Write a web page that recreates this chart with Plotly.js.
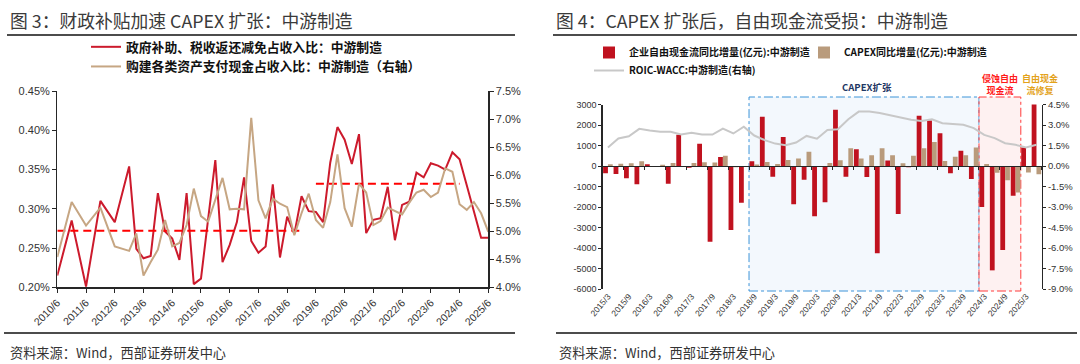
<!DOCTYPE html>
<html><head><meta charset="utf-8">
<script src="https://cdn.plot.ly/plotly-3.0.1.min.js"></script>
<style>html,body{margin:0;padding:0;background:#fff}#chart{width:1080px;height:364px}</style>
</head><body><div id="chart"></div>
<script>
// ---------- Figure 3 data ----------
const periods = ['2010/6','2010/12','2011/6','2011/12','2012/6','2012/12',
 '2013/3','2013/6','2013/9','2013/12','2014/3','2014/6','2014/9','2014/12',
 '2015/3','2015/6','2015/9','2015/12','2016/3','2016/6','2016/9','2016/12',
 '2017/3','2017/6','2017/9','2017/12','2018/3','2018/6','2018/9','2018/12',
 '2019/3','2019/6','2019/9','2019/12','2020/3','2020/6','2020/9','2020/12',
 '2021/3','2021/6','2021/9','2021/12','2022/3','2022/6','2022/9','2022/12',
 '2023/3','2023/6','2023/9','2023/12','2024/3','2024/6','2024/9','2024/12',
 '2025/3','2025/6'];
const subsidyRatio = [0.215,0.285,0.201,0.310,0.283,0.354,
 0.249,0.237,0.240,0.320,0.271,0.262,0.235,0.320,
 0.204,0.211,0.287,0.362,0.232,0.254,0.283,0.340,
 0.259,0.244,0.252,0.331,0.238,0.290,0.268,0.316,
 0.297,0.296,0.283,0.359,0.404,0.388,0.357,0.395,
 0.269,0.286,0.288,0.328,0.260,0.305,0.309,0.346,
 0.340,0.358,0.355,0.350,0.372,0.363,0.330,0.296,
 0.263,0.263];
const capexCashRatio = [4.54,5.52,5.10,5.42,4.73,4.65,
 4.96,4.21,4.45,4.67,5.20,4.73,4.79,5.11,
 5.76,5.27,5.17,5.55,5.95,5.39,5.40,5.39,
 7.02,5.55,5.23,5.58,5.49,5.43,4.93,5.32,
 5.67,5.20,5.06,5.52,6.37,5.41,5.08,5.85,
 5.69,5.11,5.18,5.42,5.36,5.30,5.51,5.69,
 5.74,5.61,5.69,6.12,6.06,5.48,5.38,5.52,
 5.32,4.99];
const avgStart = ['2010/6','2019/6'];
const avgEnd   = ['2018/12','2024/6'];
const avgValue = [0.272, 0.332];
const seriesNames3 = ['政府补助、税收返还减免占收入比：中游制造','购建各类资产支付现金占收入比：中游制造（右轴）'];

// ---------- Figure 4 data ----------
const quarters = ['2015/3','2015/6','2015/9','2015/12','2016/3','2016/6','2016/9','2016/12',
 '2017/3','2017/6','2017/9','2017/12','2018/3','2018/6','2018/9','2018/12',
 '2019/3','2019/6','2019/9','2019/12','2020/3','2020/6','2020/9','2020/12',
 '2021/3','2021/6','2021/9','2021/12','2022/3','2022/6','2022/9','2022/12',
 '2023/3','2023/6','2023/9','2023/12','2024/3','2024/6','2024/9','2024/12',
 '2025/3','2025/6'];
const fcfYoY = [-350,-390,-600,-890,90,null,-860,1520,
 -80,1080,-3700,440,-3120,-1790,230,2400,
 -530,1420,-1870,-670,-2450,-1770,2740,-520,
 820,-540,-4260,270,-2340,-60,2450,2220,
 1600,-350,740,-630,-2000,-5090,-4100,-1450,
 900,3020];
const capexYoY = [80,110,130,230,-20,60,150,0,
 150,180,165,500,-60,0,70,190,
 100,290,370,690,0,150,280,860,
 370,520,860,520,130,500,860,1170,
 250,450,520,900,100,-330,-700,-1290,
 -320,-400];
const roicWacc = [1.35,2.01,2.18,2.72,2.60,2.50,2.50,2.30,
 2.43,2.30,2.30,2.74,2.38,2.87,2.23,1.89,
 1.64,1.52,1.72,2.20,2.00,2.64,2.69,3.42,
 3.98,3.98,3.87,3.70,3.50,3.38,3.30,3.42,
 3.13,3.06,3.01,2.77,2.28,2.04,1.67,1.55,
 1.35,1.55];
const seriesNames4 = ['企业自由现金流同比增量(亿元):中游制造','CAPEX同比增量(亿元):中游制造','ROIC-WACC:中游制造(右轴)'];
const phaseStart = ['2018/9','2024/3'];   // first quarter of each shaded phase
const phaseEnd   = ['2024/3','2025/3'];   // first quarter after each phase

// ---------- helpers ----------
const W = 1080, H = 364;
const px = v => v / W, py = v => 1 - v / H;
const toX = p => { const [y, m] = p.split('/').map(Number); return y + (m - 6) / 12; };
const CJK = '"Noto Sans CJK SC", "Noto Sans", sans-serif';
const LAT = '"Liberation Sans", Arial, sans-serif';
const AX = '#262626';

const junePeriods = periods.filter(p => p.endsWith('/6'));
const evenQuarters = quarters.filter((q, i) => i % 2 === 0);
const qIndex = quarters.map((q, i) => i);

const traces = [
  {x: periods.map(toX), y: subsidyRatio, xaxis: 'x', yaxis: 'y', type: 'scatter', mode: 'lines',
   name: seriesNames3[0], legend: 'legend', line: {color: '#cc1a2c', width: 2}},
  {x: periods.map(toX), y: capexCashRatio, xaxis: 'x', yaxis: 'y2', type: 'scatter', mode: 'lines',
   name: seriesNames3[1], legend: 'legend', line: {color: '#c6a683', width: 2}}
];
avgValue.forEach((v, i) => traces.push({
  x: [toX(avgStart[i]), toX(avgEnd[i])], y: [v, v], xaxis: 'x', yaxis: 'y', type: 'scatter', mode: 'lines',
  showlegend: false, line: {color: '#ff0000', width: 2, dash: '8px,5px'}
}));
traces.push(
  {x: quarters, y: fcfYoY, xaxis: 'x2', yaxis: 'y3', type: 'bar', name: seriesNames4[0],
   legend: 'legend2', marker: {color: '#c0121f'}},
  {x: quarters, y: capexYoY, xaxis: 'x2', yaxis: 'y3', type: 'bar', name: seriesNames4[1],
   legend: 'legend2', marker: {color: '#b99b7c'}},
  {x: qIndex, y: roicWacc, xaxis: 'x3', yaxis: 'y4', type: 'scatter', mode: 'lines', name: seriesNames4[2],
   legend: 'legend3', line: {color: '#c8c8c8', width: 2}}
);

const y3dom = [py(289), py(104.5)];
const y3range = [-6000, 3000];
const zeroPos = y3dom[0] + (0 - y3range[0]) / (y3range[1] - y3range[0]) * (y3dom[1] - y3dom[0]);
const y3ticks = []; for (let v = y3range[0]; v <= y3range[1]; v += 1000) y3ticks.push(v);
const y4ticks = []; for (let v = -9; v <= 4.5 + 1e-9; v += 1.5) y4ticks.push(Math.round(v * 10) / 10);

const tickFontL = {family: LAT, size: 11, color: '#333'};
const tickFontR = {family: LAT, size: 9, color: '#333'};

const layout = {
  width: W, height: H, margin: {l: 0, r: 0, t: 0, b: 0},
  paper_bgcolor: '#fff', plot_bgcolor: 'rgba(0,0,0,0)',
  barmode: 'group', bargap: 0.08, bargroupgap: 0.0,
  font: {family: LAT, color: '#333'},
  xaxis: {domain: [px(57.3), px(488.3)], anchor: 'y', range: [toX(periods[0]), toX(periods[periods.length - 1])],
    tickmode: 'array', tickvals: junePeriods.map(toX), ticktext: junePeriods, tickangle: -45,
    showline: true, linecolor: AX, linewidth: 1.3, ticks: 'outside', ticklen: 4, tickcolor: AX,
    showgrid: false, zeroline: false, tickfont: {family: LAT, size: 10.5, color: '#333'}},
  yaxis: {domain: [py(287.3), py(91)], anchor: 'x', range: [0.2, 0.45], tick0: 0.2, dtick: 0.05,
    tickformat: '.2f', ticksuffix: '%', showline: true, linecolor: AX, linewidth: 1.3, ticks: 'outside',
    ticklen: 4, tickcolor: AX, showgrid: false, zeroline: false, tickfont: tickFontL},
  yaxis2: {overlaying: 'y', side: 'right', anchor: 'x', range: [4, 7.5], tick0: 4, dtick: 0.5,
    tickformat: '.1f', ticksuffix: '%', showline: true, linecolor: AX, linewidth: 1.3, ticks: 'outside',
    ticklen: 4, tickcolor: AX, showgrid: false, zeroline: false, tickfont: tickFontL},
  xaxis2: {domain: [px(602.7), px(1041.7)], anchor: 'y3', type: 'category', range: [-0.5, quarters.length - 0.5],
    tickmode: 'array', tickvals: evenQuarters, ticktext: evenQuarters, tickangle: -50, showline: false,
    ticks: '', showgrid: false, zeroline: false, tickfont: {family: LAT, size: 8.5, color: '#333'}},
  xaxis3: {overlaying: 'x2', anchor: 'free', position: zeroPos, range: [-0.5, quarters.length - 0.5],
    tick0: -0.5, dtick: 2, showticklabels: false, showline: true, linecolor: AX, linewidth: 1.3,
    ticks: 'outside', ticklen: 3, tickcolor: AX, showgrid: false, zeroline: false},
  yaxis3: {domain: y3dom, anchor: 'x2', range: y3range, tickmode: 'array', tickvals: y3ticks,
    ticktext: y3ticks.map(String), showline: true, linecolor: AX, linewidth: 1.3, ticks: 'outside',
    ticklen: 3, tickcolor: AX, showgrid: false, zeroline: false, tickfont: tickFontR},
  yaxis4: {overlaying: 'y3', side: 'right', anchor: 'x2', range: [-9, 4.5], tickmode: 'array',
    tickvals: y4ticks, ticktext: y4ticks.map(v => v.toFixed(1) + '%'), showline: true, linecolor: AX,
    linewidth: 1.3, ticks: 'outside', ticklen: 3, tickcolor: AX, showgrid: false, zeroline: false,
    tickfont: {family: LAT, size: 9.5, color: '#333'}},
  legend: {x: px(86), y: py(32), xanchor: 'left', yanchor: 'top', orientation: 'v',
    bgcolor: 'rgba(0,0,0,0)', font: {family: CJK, size: 12.8, color: '#111', weight: 'bold'}, tracegroupgap: 0},
  legend2: {x: px(589), y: py(38), xanchor: 'left', yanchor: 'top', orientation: 'h',
    entrywidth: 170, entrywidthmode: 'pixels',
    bgcolor: 'rgba(0,0,0,0)', font: {family: CJK, size: 10, color: '#111', weight: 'bold'}},
  legend3: {x: px(589), y: py(56), xanchor: 'left', yanchor: 'top', orientation: 'h',
    bgcolor: 'rgba(0,0,0,0)', font: {family: CJK, size: 10, color: '#111', weight: 'bold'}},
  shapes: [
    {type: 'line', xref: 'paper', yref: 'paper', x0: px(7), x1: px(515), y0: py(35), y1: py(35), line: {color: '#111', width: 1.5}},
    {type: 'line', xref: 'paper', yref: 'paper', x0: px(553), x1: px(1077), y0: py(35), y1: py(35), line: {color: '#111', width: 1.5}},
    {type: 'line', xref: 'paper', yref: 'paper', x0: px(4), x1: px(515), y0: py(333), y1: py(333), line: {color: '#111', width: 1.5}},
    {type: 'line', xref: 'paper', yref: 'paper', x0: px(556), x1: px(1077), y0: py(333), y1: py(333), line: {color: '#111', width: 1.5}},
    {type: 'rect', xref: 'x2', yref: 'paper', layer: 'below',
     x0: quarters.indexOf(phaseStart[0]) - 0.5, x1: quarters.indexOf(phaseEnd[0]) - 0.5, y0: py(291), y1: py(97),
     fillcolor: 'rgba(225,237,249,0.4)', line: {color: '#3d94d8', width: 1, dash: 'dashdot'}},
    {type: 'rect', xref: 'x2', yref: 'paper', layer: 'below',
     x0: quarters.indexOf(phaseStart[1]) - 0.5, x1: quarters.indexOf(phaseEnd[1]) - 0.5, y0: py(291), y1: py(97),
     fillcolor: 'rgba(253,225,225,0.45)', line: {color: '#ff3b3b', width: 1, dash: 'dashdot'}}
  ],
  annotations: [
    {xref: 'paper', yref: 'paper', x: px(8), y: py(20), xanchor: 'left', yanchor: 'middle', showarrow: false,
     text: '图 3：财政补贴加速 CAPEX 扩张：中游制造', font: {family: CJK, size: 17.8, color: '#3a3a3a'}},
    {xref: 'paper', yref: 'paper', x: px(554), y: py(20), xanchor: 'left', yanchor: 'middle', showarrow: false,
     text: '图 4：CAPEX 扩张后，自由现金流受损：中游制造', font: {family: CJK, size: 17.8, color: '#3a3a3a'}},
    {xref: 'paper', yref: 'paper', x: px(8), y: py(352), xanchor: 'left', yanchor: 'middle', showarrow: false,
     text: '资料来源：Wind，西部证券研发中心', font: {family: CJK, size: 13.2, color: '#333'}},
    {xref: 'paper', yref: 'paper', x: px(557), y: py(352), xanchor: 'left', yanchor: 'middle', showarrow: false,
     text: '资料来源：Wind，西部证券研发中心', font: {family: CJK, size: 13.2, color: '#333'}},
    {xref: 'paper', yref: 'paper', x: px(867), y: py(87), xanchor: 'center', yanchor: 'middle', showarrow: false,
     text: 'CAPEX扩张', font: {family: CJK, size: 9.5, color: '#1f3864', weight: 'bold'}},
    {xref: 'paper', yref: 'paper', x: px(1000), y: py(84), xanchor: 'center', yanchor: 'middle', showarrow: false,
     text: '侵蚀自由<br>现金流', align: 'center', font: {family: CJK, size: 9, color: '#ff1a1a', weight: 'bold'}},
    {xref: 'paper', yref: 'paper', x: px(1040), y: py(84), xanchor: 'center', yanchor: 'middle', showarrow: false,
     text: '自由现金<br>流修复', align: 'center', font: {family: CJK, size: 9, color: '#e3a21a', weight: 'bold'}},
    {xref: 'x2', yref: 'y3', x: quarters[quarters.length - 1], y: fcfYoY[fcfYoY.length - 1] + 80, text: '',
     showarrow: true, ax: 0, ay: -9, arrowhead: 2, arrowsize: 0.8, arrowwidth: 3, arrowcolor: '#f5a31f'}
  ]
};

Plotly.newPlot('chart', traces, layout, {displayModeBar: false, staticPlot: true});
</script>
</body></html>
